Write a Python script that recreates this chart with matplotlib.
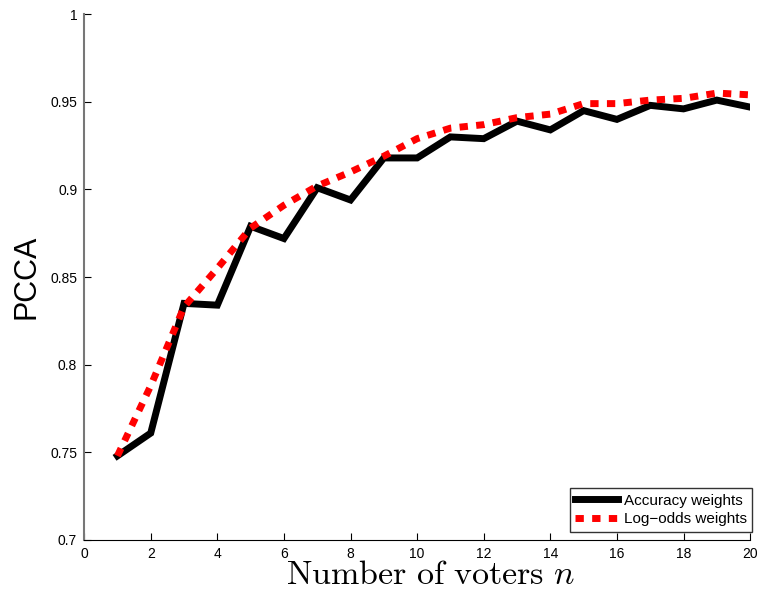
import numpy as np
import matplotlib
matplotlib.use('Agg')
import matplotlib.pyplot as plt

plt.rcParams['font.family'] = ['Liberation Sans', 'DejaVu Sans']
plt.rcParams['mathtext.fontset'] = 'cm'

# number of voters
n = list(range(1, 21))
# PCCA values
acc_w = [0.748, 0.761, 0.835, 0.834, 0.879, 0.872, 0.901, 0.894, 0.918, 0.918,
         0.930, 0.929, 0.939, 0.934, 0.945, 0.940, 0.948, 0.946, 0.951, 0.947]
logodds_w = [0.748, 0.788, 0.833, 0.855, 0.878, 0.891, 0.902, 0.910, 0.919, 0.929,
             0.935, 0.937, 0.941, 0.943, 0.949, 0.949, 0.951, 0.952, 0.955, 0.954]
xticks = list(range(0, 21, 2))
yticks = [0.7, 0.75, 0.8, 0.85, 0.9, 0.95, 1.0]
ylabels = ['0.7', '0.75', '0.8', '0.85', '0.9', '0.95', '1']

fig = plt.figure(figsize=(7.58, 5.93), dpi=100)
ax = fig.add_axes([0.111, 0.0894, 0.8786, 0.8866])

ax.plot(n, acc_w, color='black', lw=5, solid_joinstyle='miter', label='Accuracy weights')
ax.plot(n, logodds_w, color='red', lw=5, dashes=(1.2, 1.2), dash_capstyle='butt',
        label='Log\u2212odds weights')

ax.set_xlim(0, 20)
ax.set_ylim(0.7, 1.0)
ax.set_xticks(xticks)
ax.set_yticks(yticks)
ax.set_yticklabels(ylabels)
ax.tick_params(direction='in', length=5, labelsize=10, pad=5)
ax.spines['top'].set_visible(False)
ax.spines['right'].set_visible(False)
ax.spines['left'].set_color('#777777')
ax.spines['left'].set_linewidth(1.5)

ax.set_xlabel(r'$\mathrm{Number\ of\ voters}\ n$', fontsize=24.5)
ax.xaxis.set_label_coords(0.52, -0.038, transform=ax.transAxes)
ax.xaxis.label.set_va('top')
ax.set_ylabel('PCCA', fontsize=22, labelpad=6, fontfamily='Liberation Sans')

leg = ax.legend(loc='lower right', fontsize=11, frameon=True, fancybox=False,
                edgecolor='black', handlelength=2.8, borderpad=0.35,
                labelspacing=0.3, handletextpad=0.4, borderaxespad=0,
                bbox_to_anchor=(1.003, 0.016))
leg.get_frame().set_linewidth(1)

plt.savefig('out.png', dpi=100)
